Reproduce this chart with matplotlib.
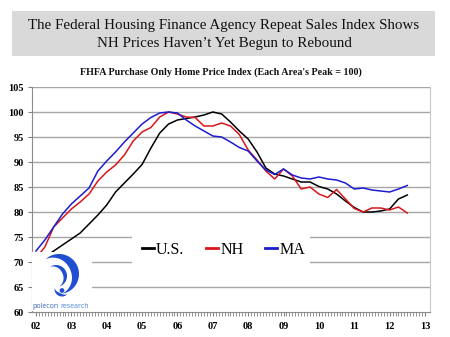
import numpy as np
import matplotlib
matplotlib.use("Agg")
import matplotlib.pyplot as plt
from matplotlib.patches import Rectangle, Polygon, Circle

# Quarterly FHFA purchase-only index, each area's peak = 100 (2002Q1 .. 2012Q3)
quarters = np.arange(2002.0, 2012.51, 0.25)

us = [70.0, 71.0, 72.2, 73.4, 74.6, 75.8, 77.6, 79.4, 81.4, 84.0, 85.8, 87.6,
      89.5, 92.8, 95.8, 97.6, 98.4, 98.7, 99.0, 99.4, 100.0, 99.6, 98.0, 96.2,
      94.6, 92.0, 88.8, 87.6, 87.2, 86.6, 86.0, 86.0, 85.1, 84.6, 83.6, 82.2,
      80.9, 80.0, 80.0, 80.2, 80.6, 82.6, 83.4]
nh = [70.8, 73.0, 77.0, 78.8, 80.6, 82.0, 83.6, 86.2, 88.0, 89.4, 91.4, 94.2,
      96.0, 96.9, 99.0, 100.0, 99.6, 99.0, 98.9, 97.2, 97.2, 97.8, 97.2, 95.5,
      92.4, 90.4, 88.2, 86.6, 88.6, 87.2, 84.6, 85.0, 83.6, 82.9, 84.5, 82.6,
      80.7, 80.0, 80.8, 80.8, 80.4, 81.0, 79.8]
ma = [72.2, 74.4, 77.0, 79.6, 81.6, 83.2, 84.8, 88.2, 90.2, 92.0, 94.0, 95.8,
      97.6, 98.9, 99.8, 100.0, 99.8, 98.4, 97.2, 96.2, 95.2, 95.0, 94.0, 92.9,
      92.2, 90.2, 88.4, 87.5, 88.6, 87.4, 86.8, 86.6, 87.0, 86.6, 86.4, 85.8,
      84.6, 84.8, 84.4, 84.2, 84.0, 84.6, 85.3]

series_names = ["U.S.", "NH", "MA"]
series_colors = ["#000000", "#d8161b", "#1c1cd0"]

year_ticks = list(range(2002, 2014))
year_labels = ["%02d" % (y % 100) for y in year_ticks]
y_ticks = [60, 65, 70, 75, 80, 85, 90, 95, 100, 105]

W, H = 450, 337
fig = plt.figure(figsize=(W / 100, H / 100), dpi=100)
fig.patch.set_facecolor("white")

serif = ["Liberation Serif", "DejaVu Serif"]

# Title banner
fig.add_artist(Rectangle((12 / W, 1 - 56 / H), 423 / W, 45 / H,
                         transform=fig.transFigure, facecolor="#d9d9d9",
                         edgecolor="none", zorder=0))
fig.text(224 / W, 1 - 26 / H,
         "The Federal Housing Finance Agency Repeat Sales Index Shows",
         ha="center", va="center", fontsize=10.8, family=serif, color="#111111")
fig.text(224 / W, 1 - 44 / H, "NH Prices Haven\u2019t Yet Begun to Rebound",
         ha="center", va="center", fontsize=10.8, family=serif, color="#111111")
fig.text(221 / W, 1 - 72 / H,
         "FHFA Purchase Only Home Price Index (Each Area's Peak = 100)",
         ha="center", va="center", fontsize=7.2, family=serif,
         fontweight="bold", color="#111111")

# Main plot area
ax = fig.add_axes([32 / W, 1 - 312 / H, 398 / W, 225 / H])
ax.set_xlim(2001.887, 2013.142)
ax.set_ylim(60, 105)

for v in y_ticks[1:]:
    ax.axhline(v, color="#a6a6a6", lw=1.0, zorder=1)

for vals, name, col in zip([us, nh, ma], series_names, series_colors):
    ax.plot(quarters, vals, color=col, lw=1.1, label=name, zorder=3,
            solid_joinstyle="round")

ax.set_yticks(y_ticks)
ax.set_yticklabels([str(v) for v in y_ticks], family=serif,
                   fontweight="bold", fontsize=7.5)
ax.set_xticks(year_ticks)
ax.set_xticklabels(year_labels, family=serif, fontweight="bold", fontsize=7.5)
ax.set_xticks(np.arange(2002, 2013.01, 1 / 12), minor=True)
ax.tick_params(axis="x", which="both", direction="out", length=3,
               color="#808080", pad=4)
ax.tick_params(axis="y", direction="out", length=3, color="#808080", pad=3)
for side in ["left", "bottom"]:
    ax.spines[side].set_color("#8c8c8c")
for side in ["top", "right"]:
    ax.spines[side].set_color("#c8c8c8")
ax.spines["top"].set_visible(False)

# Legend on a white patch
ax.add_patch(Rectangle((0.251, 0.196), 0.447, 0.16, transform=ax.transAxes,
                       facecolor="white", edgecolor="none", zorder=2))
leg = ax.legend(loc="center", bbox_to_anchor=(0.481, 0.277), ncol=3,
                frameon=False, handlelength=0.75, handletextpad=0.15,
                columnspacing=1.35, prop={"family": serif, "size": 11.5})
for line in leg.get_lines():
    line.set_linewidth(2.0)

# Polecon research logo
lax = fig.add_axes([32 / W, 1 - 311 / H, 60 / W, 59 / H])
lax.set_xlim(0, 60)
lax.set_ylim(59, 0)
lax.axis("off")
lax.add_patch(Rectangle((0, 0), 60, 59, facecolor="white", edgecolor="none"))


def crescent(cx, cy, r, t0, t1, w, n=60):
    th = np.radians(np.linspace(t0, t1, n))
    s = np.linspace(0, 1, n)
    outer = np.c_[cx + r * np.cos(th), cy + r * np.sin(th)]
    rr = r - w * np.sin(np.pi * s)
    inner = np.c_[cx + rr * np.cos(th), cy + rr * np.sin(th)][::-1]
    return Polygon(np.vstack([outer, inner]), closed=True,
                   facecolor="#1f4fd0", edgecolor="none")


lax.add_patch(crescent(27, 22, 20, -132, 80, 8))
lax.add_patch(crescent(24, 24, 11, -122, 72, 4))
lax.add_patch(crescent(30, 37, 7.5, 185, 45, 3))
lax.add_patch(Circle((30, 38.5), 2.4, facecolor="#1f4fd0", edgecolor="none"))
lax.text(27, 55, "polecon", ha="right", va="center", fontsize=5.0,
         family="Open Sans", color="#3a62b8")
lax.text(28, 55, "research", ha="left", va="center", fontsize=5.0,
         family="Open Sans", color="#4a86d8")

fig.savefig("out.png", dpi=100, facecolor="white")
